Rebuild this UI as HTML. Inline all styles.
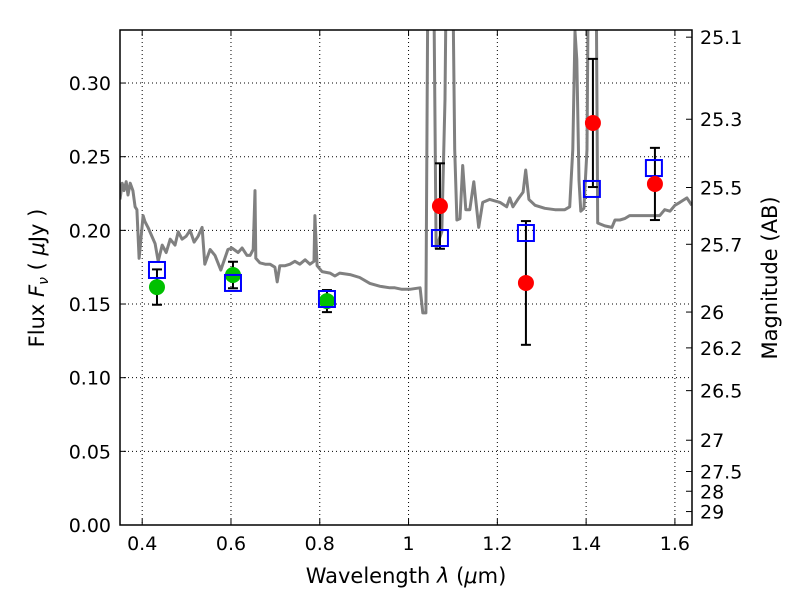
<!DOCTYPE html>
<html><head><meta charset="utf-8"><style>
body{margin:0;background:#fff;}
svg text{font-family:"DejaVu Sans","Liberation Sans",sans-serif;fill:#000;}
</style></head><body>
<svg id="chart" width="800" height="600" xmlns="http://www.w3.org/2000/svg">
<defs><clipPath id="clip"><rect x="120" y="30" width="572" height="495"/></clipPath></defs>
<g id="grid"></g>
<g id="plot" clip-path="url(#clip)"></g>
<g id="axes"></g>
<text x="406" y="583" font-size="21" text-anchor="middle">Wavelength  <tspan font-style="italic">λ</tspan> (<tspan font-style="italic">μ</tspan>m)</text>
<text transform="translate(44,278) rotate(-90)" font-size="21" text-anchor="middle">Flux  <tspan font-style="italic">F<tspan font-size="14" dy="4">ν</tspan></tspan><tspan dy="-4">  ( </tspan><tspan font-style="italic">μ</tspan>Jy )</text>
<text transform="translate(777,278) rotate(-90)" font-size="21" text-anchor="middle">Magnitude (AB)</text>
</svg>
<script>
const specLam=[0.350,0.355,0.359,0.364,0.368,0.373,0.379,0.384,0.388,0.393,0.402,0.406,0.413,0.429,0.436,0.445,0.454,0.463,0.474,0.481,0.490,0.499,0.508,0.517,0.526,0.535,0.541,0.553,0.564,0.577,0.593,0.602,0.616,0.625,0.636,0.643,0.650,0.654,0.656,0.665,0.677,0.688,0.699,0.704,0.710,0.722,0.733,0.744,0.755,0.767,0.778,0.787,0.789,0.794,0.805,0.823,0.834,0.845,0.868,0.890,0.913,0.936,0.958,0.969,0.985,1.003,1.026,1.032,1.039,1.046,1.053,1.062,1.075,1.082,1.089,1.095,1.104,1.109,1.116,1.122,1.129,1.138,1.147,1.158,1.167,1.183,1.206,1.221,1.228,1.235,1.246,1.258,1.264,1.271,1.285,1.307,1.330,1.352,1.363,1.370,1.375,1.379,1.384,1.388,1.395,1.402,1.408,1.420,1.426,1.442,1.458,1.465,1.476,1.487,1.498,1.521,1.544,1.566,1.577,1.589,1.600,1.611,1.627,1.638];
const specFlux=[0.221,0.232,0.227,0.233,0.224,0.232,0.227,0.216,0.214,0.181,0.210,0.206,0.202,0.191,0.179,0.190,0.185,0.194,0.190,0.199,0.194,0.196,0.200,0.192,0.196,0.202,0.177,0.187,0.183,0.173,0.187,0.188,0.185,0.188,0.183,0.183,0.187,0.227,0.181,0.178,0.177,0.177,0.175,0.165,0.176,0.176,0.177,0.179,0.177,0.180,0.177,0.179,0.210,0.176,0.172,0.171,0.169,0.171,0.170,0.168,0.164,0.162,0.161,0.161,0.160,0.160,0.161,0.144,0.144,0.50,0.50,0.188,0.199,0.289,0.50,0.50,0.255,0.207,0.208,0.244,0.214,0.214,0.233,0.202,0.219,0.221,0.219,0.216,0.222,0.216,0.221,0.226,0.241,0.221,0.217,0.215,0.214,0.214,0.216,0.255,0.335,0.316,0.234,0.213,0.215,0.255,0.50,0.50,0.205,0.203,0.202,0.207,0.207,0.208,0.210,0.210,0.210,0.210,0.214,0.213,0.217,0.219,0.222,0.217];
const modelLam=[0.4333,0.6045,0.8162,1.0707,1.2644,1.413,1.5527];
const modelFlux=[0.1731,0.1643,0.1534,0.1948,0.1982,0.2281,0.2423];
const greenLam=[0.4333,0.6045,0.8162];
const greenFlux=[0.1615,0.1697,0.152];
const greenErr=[0.012,0.009,0.0075];
const redLam=[1.0707,1.2644,1.4153,1.555];
const redFlux=[0.2165,0.1643,0.2729,0.2315];
const redErr=[0.029,0.042,0.0435,0.0245];
const xTicks=[0.4,0.6,0.8,1.0,1.2,1.4,1.6];
const xTickLabels=["0.4","0.6","0.8","1","1.2","1.4","1.6"];
const yTicks=[0,0.05,0.10,0.15,0.20,0.25,0.30];
const yTickLabels=["0.00","0.05","0.10","0.15","0.20","0.25","0.30"];
const magTicks=[25.1,25.3,25.5,25.7,26,26.2,26.5,27,27.5,28,29];

const X0=120,X1=692,Y0=525,Y1=30,xmin=0.35,xmax=1.6385,ymin=0,ymax=0.336;
const xs=v=>X0+(v-xmin)/(xmax-xmin)*(X1-X0);
const ys=v=>Y0-(v-ymin)/(ymax-ymin)*(Y0-Y1);
const NS="http://www.w3.org/2000/svg";
function mk(tag,attrs,parent){const e=document.createElementNS(NS,tag);for(const k in attrs)e.setAttribute(k,attrs[k]);parent.appendChild(e);return e;}
const grid=document.getElementById('grid'),plot=document.getElementById('plot'),axes=document.getElementById('axes');

xTicks.forEach((t,i)=>{
  const x=xs(t);
  let g=mk('line',{x1:x,x2:x,y1:Y1,y2:Y0,stroke:'#000','stroke-width':1,'stroke-dasharray':'1,3'},grid);
  
  
  mk('line',{x1:x,x2:x,y1:Y0,y2:Y0-6,stroke:'#000','stroke-width':1},axes);
  mk('line',{x1:x,x2:x,y1:Y1,y2:Y1+6,stroke:'#000','stroke-width':1},axes);
  let tx=mk('text',{x:x,y:Y0+25,'font-size':19,'text-anchor':'middle'},axes);
  tx.textContent=xTickLabels[i];
  
  
});
yTicks.forEach((t,i)=>{
  const y=ys(t);
  let g=mk('line',{x1:X0,x2:X1,y1:y,y2:y,stroke:'#000','stroke-width':1,'stroke-dasharray':'1,3'},grid);
  
  
  mk('line',{x1:X0,x2:X0+6,y1:y,y2:y,stroke:'#000','stroke-width':1},axes);
  let tx=mk('text',{x:X0-9,y:y+7,'font-size':19,'text-anchor':'end'},axes);
  tx.textContent=yTickLabels[i];
  
  
});
magTicks.forEach(m=>{
  const y=ys(Math.pow(10,(23.9-m)/2.5));
  mk('line',{x1:X1,x2:X1-6,y1:y,y2:y,stroke:'#000','stroke-width':1},axes);
  let tx=mk('text',{x:X1+8,y:y+7,'font-size':19,'text-anchor':'start'},axes);
  tx.textContent=String(m);
  
  
});
let fr=mk('rect',{x:X0,y:Y1,width:X1-X0,height:Y0-Y1,fill:'none',stroke:'#000','stroke-width':1.5},axes);



let d=specLam.map((l,i)=>(i?'L':'M')+xs(l).toFixed(1)+','+ys(specFlux[i]).toFixed(1)).join('');
let sp=mk('path',{d:d,fill:'none',stroke:'#808080','stroke-width':3,'stroke-linejoin':'round'},plot);



function errbar(l,f,e,name){
  const x=xs(l),a=ys(f-e),b=ys(f+e);
  let g=mk('g',{stroke:'#000','stroke-width':2},plot);
  
  
  mk('line',{x1:x,x2:x,y1:a,y2:b},g);
  mk('line',{x1:x-5,x2:x+5,y1:a,y2:a},g);
  mk('line',{x1:x-5,x2:x+5,y1:b,y2:b},g);
}
greenLam.forEach((l,i)=>errbar(l,greenFlux[i],greenErr[i],'green-errorbar'));
redLam.forEach((l,i)=>errbar(l,redFlux[i],redErr[i],'red-errorbar'));
greenLam.forEach((l,i)=>{
  let c=mk('circle',{cx:xs(l),cy:ys(greenFlux[i]),r:8,fill:'#00c000'},plot);
  
  
});
modelLam.forEach((l,i)=>{
  let r=mk('rect',{x:xs(l)-8,y:ys(modelFlux[i])-8,width:16,height:16,fill:'none',stroke:'#0000ff','stroke-width':2},plot);
  
  
});
redLam.forEach((l,i)=>{
  let c=mk('circle',{cx:xs(l),cy:ys(redFlux[i]),r:8,fill:'#ff0000'},plot);
  
  
});
</script>
</body></html>
